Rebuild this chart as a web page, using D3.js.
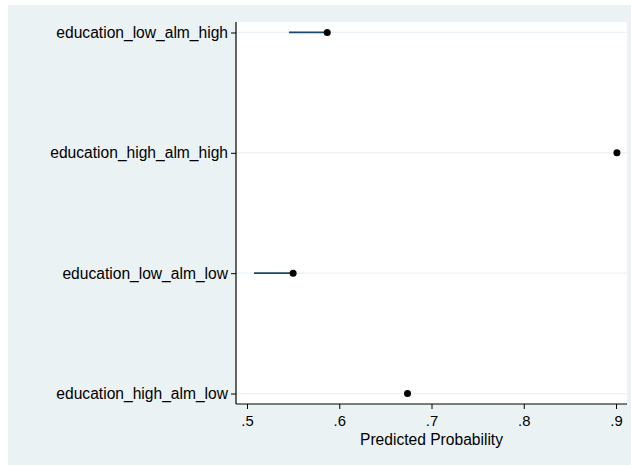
<!DOCTYPE html>
<html>
<head>
<meta charset="utf-8">
<script src="https://cdn.jsdelivr.net/npm/d3@7/dist/d3.min.js"></script>
<style>
  html, body { margin: 0; padding: 0; background: #ffffff; }
  svg { display: block; }
</style>
</head>
<body>
<script>
// Predicted probabilities by education / ALM group
const categories = [
  "education_low_alm_high",
  "education_high_alm_high",
  "education_low_alm_low",
  "education_high_alm_low"
];
const estimates = [0.587, 0.901, 0.550, 0.674];
const lowerBounds = [0.5455, 0.901, 0.5076, 0.674];
const xTicks = [0.5, 0.6, 0.7, 0.8, 0.9];
const xTitle = "Predicted Probability";

const W = 631, H = 465;
const plot = { left: 236, top: 22, right: 627, bottom: 404 };

const svg = d3.select("body").append("svg")
  .attr("width", W).attr("height", H);

// outer graph region
svg.append("rect")
  .attr("x", 8).attr("y", 5)
  .attr("width", W - 8).attr("height", H - 5)
  .attr("fill", "#eaf2f3");

// plot region
svg.append("rect")
  .attr("x", plot.left).attr("y", plot.top)
  .attr("width", plot.right - plot.left).attr("height", plot.bottom - plot.top)
  .attr("fill", "#ffffff");

const x = d3.scaleLinear()
  .domain([0.5 - (247 - plot.left) / 922.5, 0.5 + (plot.right - 247) / 922.5])
  .range([plot.left, plot.right]);

const y = d3.scalePoint()
  .domain(categories)
  .range([plot.top, plot.bottom])
  .padding(0.087);

const font = "'Liberation Sans', Arial, Helvetica, sans-serif";
const fs = 15.6;

// horizontal grid lines
svg.append("g").selectAll("line")
  .data(categories).join("line")
  .attr("x1", plot.left).attr("x2", plot.right)
  .attr("y1", d => y(d)).attr("y2", d => y(d))
  .attr("stroke", "#eaf2f3").attr("stroke-width", 1.2);

// y axis
const yAxis = svg.append("g")
  .attr("transform", `translate(${plot.left},0)`)
  .call(d3.axisLeft(y).tickSize(5).tickPadding(3));
yAxis.select(".domain").attr("stroke", "#000").attr("stroke-width", 1.2)
  .attr("d", `M0,${plot.top}V${plot.bottom}`);
yAxis.selectAll(".tick line").attr("stroke", "#000");
yAxis.selectAll(".tick text")
  .attr("font-family", font).attr("font-size", fs).attr("fill", "#000");

// x axis
const xAxis = svg.append("g")
  .attr("transform", `translate(0,${plot.bottom})`)
  .call(d3.axisBottom(x).tickValues(xTicks).tickSize(5).tickPadding(6)
    .tickFormat(d => d3.format(".1f")(d).replace(/^0/, "")));
xAxis.select(".domain").attr("stroke", "#000").attr("stroke-width", 1.2)
  .attr("d", `M${plot.left},0H${plot.right}`);
xAxis.selectAll(".tick line").attr("stroke", "#000");
xAxis.selectAll(".tick text")
  .attr("font-family", font).attr("font-size", 14.8).attr("fill", "#000");

svg.append("text")
  .attr("x", (plot.left + plot.right) / 2)
  .attr("y", 445)
  .attr("text-anchor", "middle")
  .attr("font-family", font).attr("font-size", fs)
  .text(xTitle);

// interval segments
svg.append("g").selectAll("line")
  .data(categories.map((c, i) => ({ c, lo: lowerBounds[i], est: estimates[i] })))
  .join("line")
  .attr("x1", d => x(d.lo)).attr("x2", d => x(d.est))
  .attr("y1", d => y(d.c)).attr("y2", d => y(d.c))
  .attr("stroke", "#1a476f").attr("stroke-width", 1.8);

// point estimates
svg.append("g").selectAll("circle")
  .data(categories.map((c, i) => ({ c, est: estimates[i] })))
  .join("circle")
  .attr("cx", d => x(d.est)).attr("cy", d => y(d.c))
  .attr("r", 3.5).attr("fill", "#000");
</script>
</body>
</html>
